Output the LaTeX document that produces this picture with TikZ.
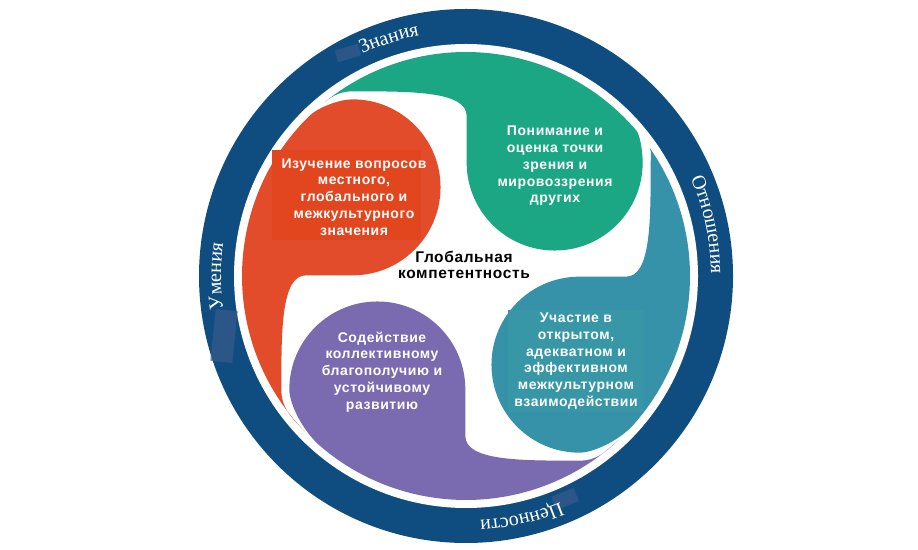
\documentclass[tikz,border=0pt]{standalone}
\usepackage{fontspec}
\setmainfont{Liberation Serif}
\newfontfamily\petalfnt[LetterSpace=4]{Liberation Sans}
\usetikzlibrary{decorations.text,calc}
\definecolor{ringblue}{HTML}{0F4D80}
\definecolor{pgreen}{HTML}{1BA784}
\definecolor{pred}{HTML}{E34C2B}
\definecolor{predbox}{HTML}{E1461F}
\definecolor{ppurple}{HTML}{7A6AAF}
\definecolor{pteal}{HTML}{3592A8}
\definecolor{ptealbox}{HTML}{3797A6}
\definecolor{patchblue}{HTML}{3B5A8C}
\newcommand\ringfnt{\fontsize{20}{20}\selectfont}
% \te = extension of own tail (deg), \tn = extension of the neighbour tail wrapping this head
\tikzset{
  petalshape/.pic={
    \fill[#1] ({40.48+\tn}:224)
      arc[start angle={40.48+\tn},end angle={124.98+\te},radius=224]
      .. controls ($({124.98+\te}:224)+({34.98+\te}:{4+2*\te})$)
             and ({-117.47-1.5*\te},184.66) .. (-113.47,184.66)
      .. controls (-55,184.66) and (0.66,185) .. (0.66,160)
      -- (0.66,113.47)
      arc[start angle=180,end angle=360,radius=88]
      .. controls (176.66,{123.47+0.6*\tn})
             and ($({40.48+\tn}:224)+({-49.52+\tn}:{6+1.8*\tn})$) .. ({40.48+\tn}:224)
      -- cycle;
  },
  ptext/.style={text=white,align=center,inner sep=0pt,
    font=\petalfnt\bfseries\fontsize{14}{16.8}\selectfont},
  ctext/.style={text=black,align=center,inner sep=0pt,
    font=\petalfnt\bfseries\fontsize{15.5}{16.5}\selectfont},
  ringtext/.style={decorate,decoration={text along path,text align=center,
    text color=white,text={|\ringfnt|#1}}},
  patch/.style={fill=patchblue,opacity=0.7}
}
\begin{document}
\begin{tikzpicture}[x=1pt,y=1pt]
\useasboundingbox (0,0) rectangle (918,549);
\fill[white] (0,0) rectangle (918,549);
\coordinate (O) at (466,273);
% ring
\fill[ringblue] (O) circle[radius=267];
\fill[white] (O) circle[radius=232];
% faint patches on the ring
\fill[patch,rotate around={17:(348,496)}] (336,490) rectangle (360,502);
\fill[patch,rotate around={-6:(224,213)}] (213,187) rectangle (235,239);
\fill[patch,rotate around={22:(565,50)}] (553,43) rectangle (577,57);
% ring labels
\path[ringtext={Знания}] (O) ++(130:245) arc[start angle=130,end angle=86,radius=245];
\path[ringtext={Отношения}] (O) ++(42:245) arc[start angle=42,end angle=-18,radius=245];
\path[ringtext={Ценности}] (O) ++(-48:245) arc[start angle=-48,end angle=-106,radius=245];
\path[ringtext={Умения}] (O) ++(204:245) arc[start angle=204,end angle=156,radius=245];
% petals
\def\te{4}\def\tn{0}\pic[rotate=0] at (O) {petalshape=pgreen};
\def\te{9}\def\tn{4}\pic[rotate=90] at (O) {petalshape=pred};
\def\te{8}\def\tn{9}\pic[rotate=180] at (O) {petalshape=ppurple};
\def\te{0}\def\tn{8}\pic[rotate=270] at (O) {petalshape=pteal};
% text boxes
\fill[predbox] (272,309) rectangle (421,399);
\fill[ptealbox] (508,137) rectangle (643,239);
% texts
\node[ptext] (tred) at (354,352) {Изучение вопросов\\местного,\\глобального и\\межкультурного\\значения};
\node[ptext] (tgreen) at (555,383) {Понимание и\\оценка точки\\зрения и\\мировоззрения\\других};
\node[ptext] (tteal) at (576,188) {Участие в\\открытом,\\адекватном и\\эффективном\\межкультурном\\взаимодействии};
\node[ptext] (tpurple) at (382,177) {Содействие\\коллективному\\благополучию и\\устойчивому\\развитию};
\node[ctext] (tcenter) at (464,284) {Глобальная\\компетентность};
\end{tikzpicture}
\end{document}
